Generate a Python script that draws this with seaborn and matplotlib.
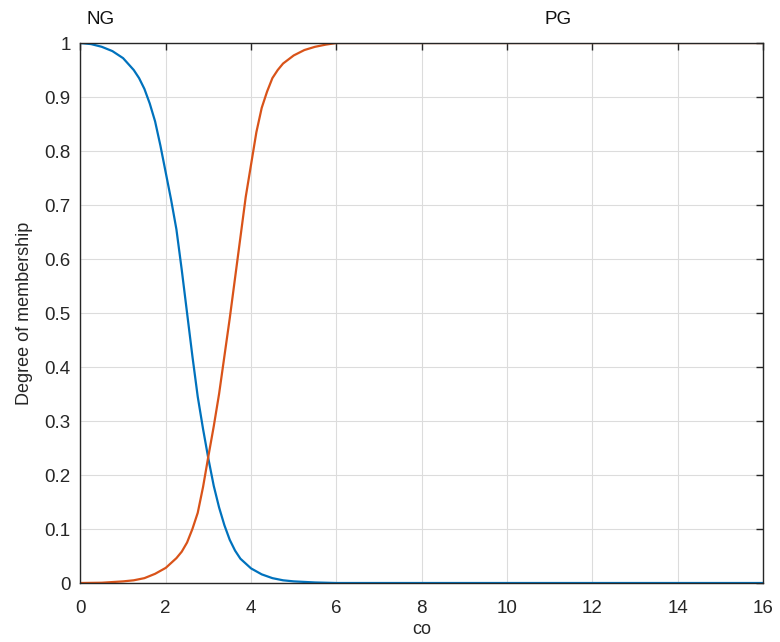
import matplotlib
matplotlib.use("Agg")
import matplotlib.pyplot as plt
import seaborn as sns
import pandas as pd

# NG membership curve
ng_x = [0.0, 0.25, 0.5, 0.75, 1.0, 1.25, 1.375, 1.5, 1.625, 1.75, 1.875, 2.0, 2.125,
        2.25, 2.375, 2.5, 2.625, 2.75, 2.875, 3.0, 3.125, 3.25, 3.375, 3.5, 3.625,
        3.75, 4.0, 4.25, 4.5, 4.75, 5.0, 5.5, 6.0, 16.0]
ng_y = [1.0, 0.998, 0.993, 0.985, 0.972, 0.95, 0.935, 0.915, 0.888, 0.855, 0.81, 0.76, 0.71,
        0.655, 0.58, 0.50, 0.42, 0.345, 0.285, 0.23, 0.18, 0.14, 0.107, 0.08, 0.06,
        0.045, 0.027, 0.016, 0.009, 0.005, 0.003, 0.001, 0.0, 0.0]

# PG membership curve
pg_x = [0.0, 0.5, 1.0, 1.25, 1.5, 1.75, 2.0, 2.25, 2.375, 2.5, 2.625, 2.75, 2.875,
        3.0, 3.125, 3.25, 3.375, 3.5, 3.625, 3.75, 3.875, 4.0, 4.125, 4.25, 4.375,
        4.5, 4.625, 4.75, 5.0, 5.25, 5.5, 5.75, 6.0, 16.0]
pg_y = [0.0, 0.0005, 0.003, 0.005, 0.009, 0.017, 0.028, 0.046, 0.058, 0.075, 0.10, 0.13, 0.178,
        0.235, 0.29, 0.35, 0.42, 0.49, 0.565, 0.64, 0.715, 0.775, 0.835, 0.88, 0.91,
        0.935, 0.95, 0.962, 0.977, 0.987, 0.993, 0.997, 1.0, 1.0]

mf_names = ["NG", "PG"]
mf_label_x = [0.15, 11.19]
x_ticks = [0, 2, 4, 6, 8, 10, 12, 14, 16]
y_ticks = [0, 0.1, 0.2, 0.3, 0.4, 0.5, 0.6, 0.7, 0.8, 0.9, 1]
y_tick_labels = ["0", "0.1", "0.2", "0.3", "0.4", "0.5", "0.6", "0.7", "0.8", "0.9", "1"]
colors = ["#0072BD", "#D95319"]

df = pd.concat([
    pd.DataFrame({"x": ng_x, "y": ng_y, "mf": "NG"}),
    pd.DataFrame({"x": pg_x, "y": pg_y, "mf": "PG"}),
])

sns.set_theme(style="white")
plt.rcParams["font.family"] = ["Liberation Sans", "DejaVu Sans"]

fig = plt.figure(figsize=(7.8, 6.42), dpi=100)
ax = fig.add_axes([0.1031, 0.0919, 0.8751, 0.8411])

sns.lineplot(data=df, x="x", y="y", hue="mf", palette=colors, ax=ax,
             linewidth=1.6, legend=False, sort=False)

ax.set_xlim(0, 16)
ax.set_ylim(0, 1)
ax.set_xticks(x_ticks)
ax.set_xticklabels([str(t) for t in x_ticks])
ax.set_yticks(y_ticks)
ax.set_yticklabels(y_tick_labels)
ax.grid(True, color="#dcdcdc", linewidth=0.8)
ax.set_axisbelow(True)
for s in ax.spines.values():
    s.set_color("#262626")
    s.set_linewidth(1.0)
    s.set_visible(True)
ax.tick_params(direction="in", length=5, width=1.0, color="#262626",
               top=True, right=True, labelsize=13.5, labelcolor="#262626", pad=7)
ax.tick_params(axis="x", pad=12)
ax.set_xlabel("co", fontsize=13, color="#262626", labelpad=3)
ax.set_ylabel("Degree of membership", fontsize=13, color="#262626", labelpad=8)

ax.text(mf_label_x[0], 1.044, mf_names[0], ha="left", va="center", fontsize=13.5, color="#111111")
ax.text(mf_label_x[1], 1.044, mf_names[1], ha="center", va="center", fontsize=13.5, color="#111111")

fig.savefig("out.png", dpi=100)
